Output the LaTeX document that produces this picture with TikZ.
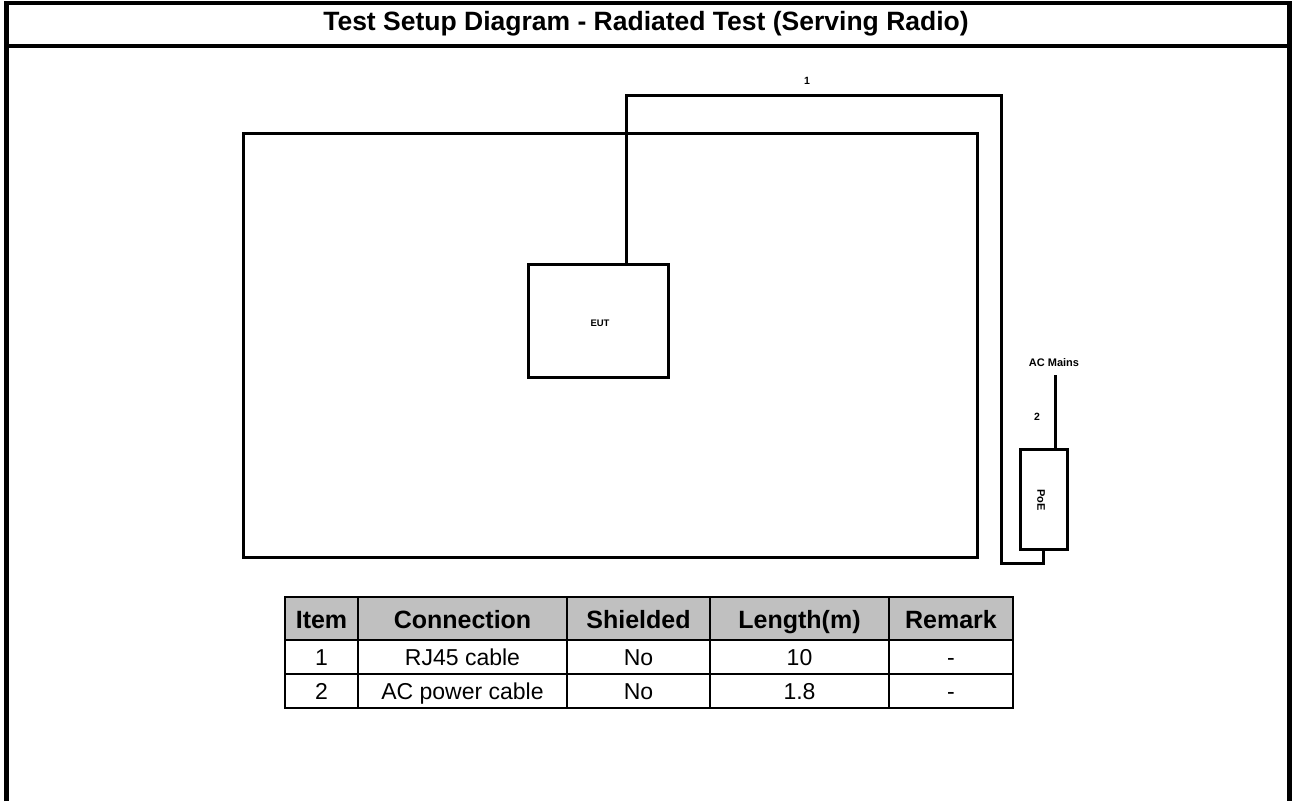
\documentclass[tikz,border=0pt]{standalone}
\usepackage{fontspec}
\setmainfont{Liberation Sans}
\usetikzlibrary{positioning,calc}

\definecolor{hdrgray}{RGB}{192,192,192}

\begin{document}
\begin{tikzpicture}[x=1pt, y=-1pt,
  frame/.style={draw=black, line width=4.5pt},
  wire/.style={draw=black, line width=3pt},
  unit/.style={draw=black, line width=3pt, rectangle, inner sep=0pt,
    font=\fontsize{9.5}{10}\selectfont\bfseries},
  tag/.style={font=\fontsize{10.5}{12}\selectfont\bfseries, inner sep=1pt},
  hcell/.style={font=\fontsize{25}{28}\selectfont\bfseries, inner sep=0pt, anchor=base},
  cell/.style={font=\fontsize{23}{26}\selectfont, inner sep=0pt, anchor=base},
  grid/.style={draw=black, line width=2.2pt},
]
\useasboundingbox (0,0) rectangle (1292,801);

%-- page frame and title ----------------------------------------------------
\draw[frame] (6.5,801) -- (6.5,3) -- (1289.5,3) -- (1289.5,801);
\draw[frame] (6.5,46) -- (1289.5,46);
\node[font=\fontsize{26.5}{30}\selectfont\bfseries] (title) at (646,24)
  {Test Setup Diagram - Radiated Test (Serving Radio)};

%-- test room, EUT and PoE ------------------------------------------------
\node[unit, minimum width=734, minimum height=424] (room) at (610,345) {};
\node[unit, minimum width=140, minimum height=113] (eut) at (598,320.5) {};
\node[tag, font=\fontsize{9.5}{10}\selectfont\bfseries] (eutlbl) at (600,323) {EUT};
\node[unit, minimum width=47, minimum height=100] (poe) at (1043.5,499) {};
\node[tag, rotate=-90, font=\fontsize{11}{12}\selectfont\bfseries] (poelbl) at (1041,500) {PoE};

% RJ45 cable (1)
\coordinate (riser) at (626,95);
\coordinate (bendA) at (1001,95);
\coordinate (bendB) at (1001,563);
\draw[wire] (riser |- eut.north) -- (riser) -- (bendA) -- (bendB) -| (poe.south);
\node[tag] (lbl1) at (807,81) {1};

% AC power cable (2)
\coordinate (mains) at (1055,375);
\draw[wire] (mains |- poe.north) -- (mains);
\node[tag] (lbl2) at (1037,417) {2};
\node[tag, font=\fontsize{11}{13}\selectfont\bfseries] (acmains) at (1054,363) {AC Mains};

%-- cable table -------------------------------------------------------------
\fill[hdrgray] (285,597) rectangle (1013,640);
\foreach \xa/\xb/\hd/\ra/\rb [count=\c] in {
    285/358/Item/1/2,
    358/567/Connection/RJ45 cable/AC power cable,
    567/710/Shielded/No/No,
    710/889/Length(m)/10/1.8,
    889/1013/Remark/-/-}{
  \node[hcell] (hd\c) at ({(\xa+\xb)/2},628) {\hd};
  \node[cell] (ra\c) at ({(\xa+\xb)/2},665) {\ra};
  \node[cell] (rb\c) at ({(\xa+\xb)/2},699) {\rb};
}
\draw[grid] (285,597) rectangle (1013,708);
\foreach \yy in {640,674}
  \draw[grid] (285,\yy) -- (1013,\yy);
\foreach \xx in {358,567,710,889}
  \draw[grid] (\xx,597) -- (\xx,708);

\end{tikzpicture}
\end{document}
